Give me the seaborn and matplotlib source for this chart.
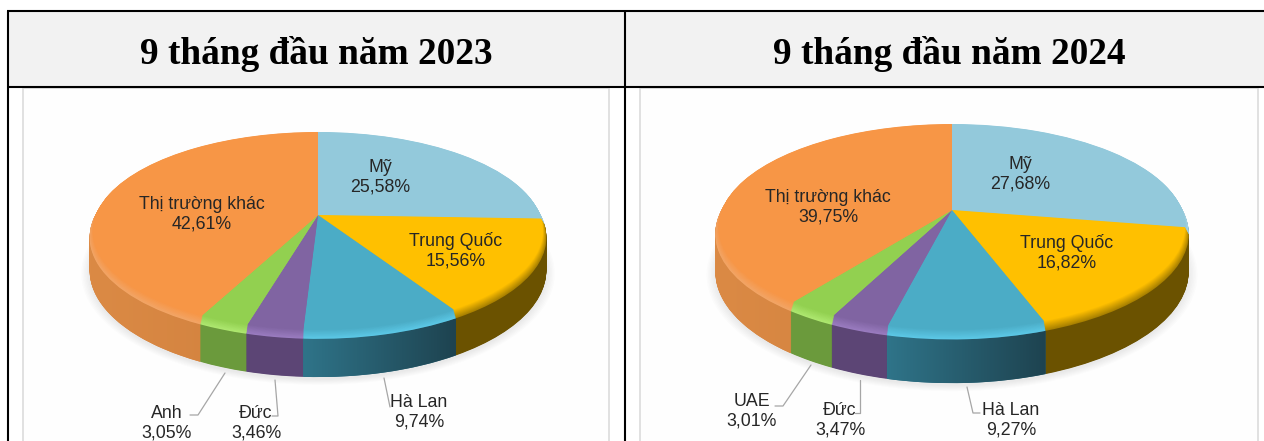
"""
plot.py - export market share pies, 9 months 2023 vs 2024
"""

import matplotlib
matplotlib.use("Agg")
import matplotlib.pyplot as plt
import numpy as np
import seaborn as sns
from matplotlib.colors import LinearSegmentedColormap, to_rgb
from matplotlib.patches import PathPatch, Rectangle
from matplotlib.path import Path
from matplotlib.transforms import Transform

headers = ["9 tháng đầu năm 2023", "9 tháng đầu năm 2024"]

# slice order: clockwise from 12 o'clock
categories_2023 = ["Mỹ", "Trung Quốc", "Hà Lan", "Đức", "Anh", "Thị trường khác"]
values_2023 = [25.58, 15.56, 9.74, 3.46, 3.05, 42.61]
categories_2024 = ["Mỹ", "Trung Quốc", "Hà Lan", "Đức", "UAE", "Thị trường khác"]
values_2024 = [27.68, 16.82, 9.27, 3.47, 3.01, 39.75]

sns.set_theme(style="white")
plt.rcParams["font.family"] = ["Liberation Sans", "DejaVu Sans"]

top_colors = sns.color_palette(["#93C9DB", "#FFC000", "#4BACC6", "#8064A2", "#92D050", "#F79646"])
rim_colors = sns.color_palette(["#A8D6E6", "#A88000", "#5CC8E6", "#9A7CC0", "#AEE870", "#F2A566"])
side_colors = sns.color_palette(["#5F8FA0", "#6B5200", "#2F6F85", "#5C4575", "#6B9A3C", "#DB8A45"])

LINE = "#A6A6A6"
TEXT = "#262626"
LABEL_SIZE = 12.8
RIM = 1.015

# layout of each panel, in image pixels
layout_2023 = dict(
    apex=(318, 215), a=222.0, b=96.3, k=0.16, rim_z=6, h=38,
    label_xy=[(380, 177), (456, 251), (419, 412), (256, 423), (167, 423), (202, 214)],
    leaders=[[(225, 373), (198, 415), (190, 415)],
             [(275, 380), (278, 416), (272, 416)],
             [(384, 378), (390, 407)]],
)
layout_2024 = dict(
    apex=(952, 210), a=230.0, b=100.0, k=0.163, rim_z=6.5, h=43,
    label_xy=[(1020, 174), (1067, 253), (1011, 420), (840, 420), (752, 411), (828, 207)],
    leaders=[[(811, 365), (783, 406), (775, 406)],
             [(860, 380), (860, 413), (855, 413)],
             [(967, 387), (973, 413), (980, 413)]],
)


class TiltTransform(Transform):
    """Project the flat unit pie onto a tilted disc, z is the drop in pixels."""
    input_dims = 2
    output_dims = 2
    has_inverse = False
    is_separable = False

    def __init__(self, p, z=0.0):
        super().__init__()
        self.p, self.z = p, z

    def transform_non_affine(self, xy):
        xy = np.asarray(xy, dtype=float)
        u, v = xy[:, 0], xy[:, 1]
        w = 1 + self.p["k"] * v
        return np.column_stack([self.p["apex"][0] + self.p["a"] * u / w,
                                self.p["apex"][1] - (self.p["b"] * v - self.z) / w])


def draw_layer(ax, values, colors, p, z=0.0, radius=1.0, alpha=None, zorder=2):
    wedges, _ = ax.pie(values, colors=colors, startangle=90, counterclock=False,
                       radius=radius, wedgeprops=dict(linewidth=0, alpha=alpha))
    for w in wedges:
        w.set_transform(TiltTransform(p, z) + ax.transData)
        w.set_zorder(zorder)
    return wedges


def shade_side(ax, wedge, p, left, right):
    # horizontal gradient on the outer wall of one slice
    th = np.radians(np.linspace(wedge.theta1, wedge.theta2, 60))
    ring = RIM * np.column_stack([np.cos(th), np.sin(th)])
    upper = TiltTransform(p, p["rim_z"]).transform_non_affine(ring)
    lower = TiltTransform(p, p["h"]).transform_non_affine(ring)
    verts = np.vstack([upper, lower[::-1], upper[:1]])
    x0, x1 = verts[:, 0].min(), verts[:, 0].max()
    cmap = LinearSegmentedColormap.from_list("side", [to_rgb(left), to_rgb(right)])
    im = ax.imshow(np.linspace(0, 1, 128)[None, :], cmap=cmap, aspect="auto",
                   extent=(x0, x1, verts[:, 1].max(), verts[:, 1].min()), zorder=3)
    im.set_clip_path(PathPatch(Path(verts), transform=ax.transData))


def mix(c0, c1, t):
    return [tuple((1 - t) * a + t * b for a, b in zip(x, y)) for x, y in zip(c0, c1)]


def draw_pie(ax, categories, values, p):
    # soft shadow under the disc
    for i in range(7):
        draw_layer(ax, [sum(values)], ["#707070"], p, z=p["h"] + 2,
                   radius=RIM + i * 0.006, alpha=0.02, zorder=1.2)
    # wall, stacked from the floor up
    for z in np.linspace(p["h"], p["rim_z"], int(p["h"]) * 2):
        wedges = draw_layer(ax, values, side_colors, p, z=z, radius=RIM)
    shade_side(ax, wedges[2], p, "#2F7489", "#1E4350")
    shade_side(ax, wedges[5], p, "#DB8A45", "#CF7F3C")
    # bevel from the wall up to the face
    for t in np.linspace(1, 0, 14):
        draw_layer(ax, values, mix(top_colors, rim_colors, t), p, z=p["rim_z"] * t,
                   radius=1 + (RIM - 1) * t, zorder=4)
    for name, val, (x, y) in zip(categories, values, p["label_xy"]):
        ax.text(x, y, f"{name}\n{val:.2f}%".replace(".", ","), ha="center", va="center",
                fontsize=LABEL_SIZE, color=TEXT, linespacing=1.16, zorder=6)
    for pts in p["leaders"]:
        xs, ys = zip(*pts)
        ax.plot(xs, ys, color=LINE, lw=0.9, zorder=5)


fig = plt.figure(figsize=(12.64, 4.41), dpi=100, facecolor="white")
ax = fig.add_axes([0, 0, 1, 1])

# chart panels behind the table
for x0, x1 in [(23, 609), (640, 1258)]:
    ax.add_patch(Rectangle((x0, 88), x1 - x0, 360, facecolor="#FEFEFE",
                           edgecolor="#DEDEDE", lw=1.3, zorder=1))

draw_pie(ax, categories_2023, values_2023, layout_2023)
draw_pie(ax, categories_2024, values_2024, layout_2024)

# table header
ax.add_patch(Rectangle((7, 11), 1257, 75, facecolor="#F2F2F2", edgecolor="none", zorder=1.5))
for xs, ys in [((7, 1264), (11, 11)), ((7, 1264), (86.8, 86.8)),
               ((7.8, 7.8), (11, 441)), ((624.5, 624.5), (11, 441))]:
    ax.plot(xs, ys, color="black", lw=1.5, solid_capstyle="butt", zorder=7)
for x, title in zip([316, 949.5], headers):
    ax.text(x, 54, title, ha="center", va="center", fontsize=26.8, fontweight="bold",
            family=["Liberation Serif", "DejaVu Serif"], color="black", zorder=7)

ax.set_aspect("auto")
ax.set_xlim(0, 1264)
ax.set_ylim(441, 0)
ax.axis("off")

fig.savefig("out.png", dpi=100, facecolor="white")
